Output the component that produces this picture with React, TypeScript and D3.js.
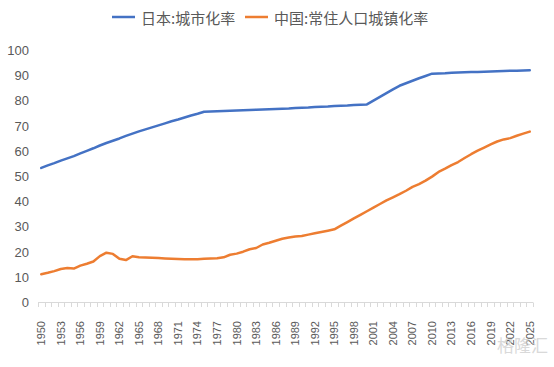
import * as d3 from "d3";
import React from "react";

// years 1950-2025
const years: number[] = d3.range(1950, 2026);

// 日本:城市化率
const japan = [
  53.4, 54.4, 55.3, 56.3, 57.2, 58.1, 59.2, 60.2, 61.2, 62.3,
  63.3, 64.2, 65.1, 66.1, 67.0, 67.9, 68.7, 69.5, 70.3, 71.1,
  71.9, 72.6, 73.4, 74.2, 74.9, 75.7, 75.8, 75.9, 76.0, 76.1,
  76.2, 76.3, 76.4, 76.5, 76.6, 76.7, 76.8, 76.9, 77.0, 77.2,
  77.3, 77.4, 77.6, 77.7, 77.8, 78.0, 78.1, 78.2, 78.4, 78.5,
  78.6, 80.1, 81.6, 83.1, 84.6, 86.0, 87.0, 88.0, 89.0, 89.9,
  90.8, 90.9, 91.0, 91.2, 91.3, 91.4, 91.5, 91.5, 91.6, 91.7,
  91.8, 91.9, 92.0, 92.0, 92.1, 92.2,
];

// 中国:常住人口城镇化率
const china = [
  11.18, 11.78, 12.46, 13.31, 13.69, 13.48, 14.62, 15.39, 16.25, 18.41,
  19.75, 19.29, 17.33, 16.84, 18.37, 17.98, 17.86, 17.74, 17.62, 17.5,
  17.38, 17.26, 17.13, 17.2, 17.16, 17.34, 17.44, 17.55, 17.92, 18.96,
  19.39, 20.16, 21.13, 21.62, 23.01, 23.71, 24.52, 25.32, 25.81, 26.21,
  26.41, 26.94, 27.46, 27.99, 28.51, 29.04, 30.48, 31.91, 33.35, 34.78,
  36.22, 37.66, 39.09, 40.53, 41.76, 42.99, 44.34, 45.89, 46.99, 48.34,
  49.95, 51.83, 53.1, 54.49, 55.75, 57.33, 58.84, 60.24, 61.5, 62.71,
  63.89, 64.72, 65.22, 66.16, 67.0, 67.8,
];

const yTicks = [0, 10, 20, 30, 40, 50, 60, 70, 80, 90, 100];

const series = [
  { name: "日本:城市化率", values: japan, color: "#4472C4" },
  { name: "中国:常住人口城镇化率", values: china, color: "#ED7D31" },
];

const W = 554;
const H = 367;
const FONT = "'Noto Sans CJK SC', 'Noto Sans', sans-serif";

export default function App() {
  const x = d3.scaleBand<number>().domain(years).range([38, 533]).padding(0);
  const y = d3.scaleLinear().domain([0, 100]).range([302.5, 50.5]);
  const cx = (yr: number) => (x(yr) as number) + x.bandwidth() / 2;

  const line = d3
    .line<number>()
    .x((_, i) => cx(years[i]))
    .y((d) => y(d));

  const tickXs = years.map((yr) => x(yr) as number).concat([533]);

  return (
    <svg width={W} height={H} style={{ position: "absolute", left: 0, top: 0, background: "#fff" }}>
      {/* legend */}
      <g fontFamily={FONT} fontSize={15} fill="#595959">
        <line x1={112} x2={135} y1={17} y2={17} stroke={series[0].color} strokeWidth={2.5} />
        <text x={141} y={17} dominantBaseline="central">{series[0].name}</text>
        <line x1={245} x2={268} y1={17} y2={17} stroke={series[1].color} strokeWidth={2.5} />
        <text x={274} y={17} dominantBaseline="central">{series[1].name}</text>
      </g>

      {/* y axis labels */}
      <g fontFamily="'Liberation Sans', sans-serif" fontSize={13} fill="#595959" textAnchor="end">
        {yTicks.map((t) => (
          <text key={t} x={29} y={y(t)} dominantBaseline="central">{t}</text>
        ))}
      </g>

      {/* x axis */}
      <g stroke="#d9d9d9" strokeWidth={1}>
        <line x1={38} x2={533} y1={302.5} y2={302.5} />
        {tickXs.map((tx, i) => (
          <line key={i} x1={Math.round(tx) + 0.5} x2={Math.round(tx) + 0.5} y1={302.5} y2={307} />
        ))}
      </g>
      <g fontFamily="'Liberation Sans', sans-serif" fontSize={11} fill="#595959" textAnchor="end">
        {years.filter((yr) => (yr - 1950) % 3 === 0).map((yr) => (
          <text key={yr} transform={`translate(${cx(yr)},321) rotate(-90)`} dy="0.35em">{yr}</text>
        ))}
      </g>

      {/* lines */}
      {series.map((s) => (
        <path key={s.name} d={line(s.values) || ""} fill="none" stroke={s.color} strokeWidth={2.5} strokeLinejoin="round" strokeLinecap="round" />
      ))}

      {/* watermark */}
      <text x={548} y={352} textAnchor="end" fontFamily={FONT} fontSize={17} fill="#d0d0d0" opacity={0.8}>格隆汇</text>
    </svg>
  );
}
